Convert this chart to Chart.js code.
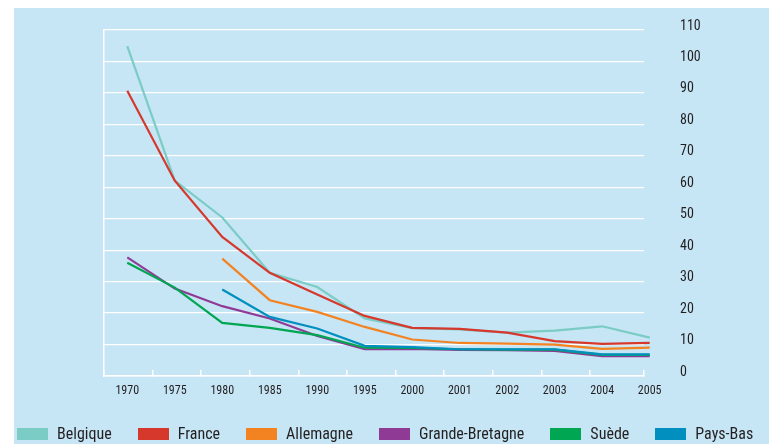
<!DOCTYPE html>
<html>
<head>
<meta charset="utf-8">
<script src="https://cdn.jsdelivr.net/npm/chart.js@4/dist/chart.umd.min.js"></script>
<style>
  body { margin: 0; background: #ffffff; }
  #wrap { position: relative; width: 769px; height: 444px; overflow: hidden; }
  #bg { position: absolute; left: 14px; top: 8px; width: 755px; height: 436px; background: #c6e5f5; }
  #chart { position: absolute; left: 0; top: 0; }
  #legend { position: absolute; left: 17px; top: 424px; display: flex; align-items: center; white-space: nowrap;
            font-family: "Roboto Condensed", "DejaVu Sans Condensed", sans-serif;
            font-size: 16px; line-height: 20px; color: #231f20; }
  .item { display: flex; align-items: center; flex-shrink: 0; margin-right: 26px; }
  .box { width: 31px; height: 12px; margin-right: 9px; flex-shrink: 0; }
</style>
</head>
<body>
<div id="wrap">
  <div id="bg"></div>
  <canvas id="chart" width="769" height="444"></canvas>
  <div id="legend"></div>
</div>
<script>
// values
const years = ['1970', '1975', '1980', '1985', '1990', '1995', '2000', '2001', '2002', '2003', '2004', '2005'];
const belgique = [104.9, 62.1, 50.4, 32.8, 28.3, 18.3, 15.2, 14.8, 13.8, 14.4, 15.8, 12.2];
const france = [90.7, 62.1, 44.2, 32.8, 25.9, 19.1, 15.3, 15.0, 13.8, 11.1, 10.2, 10.5];
const allemagne = [null, null, 37.3, 24.1, 20.4, 15.6, 11.6, 10.5, 10.3, 10.0, 8.6, 9.0];
const grandeBretagne = [37.7, 27.8, 22.2, 18.3, 12.7, 8.5, 8.6, 8.3, 8.2, 8.0, 6.3, 6.3];
const suede = [36.0, 28.1, 16.9, 15.3, 13.0, 9.0, 8.9, 8.5, 8.4, 8.4, 6.7, 6.7];
const paysBas = [null, null, 27.5, 18.8, 15.1, 9.6, 9.2, 8.5, 8.5, 8.5, 6.9, 6.9];

const seriesNames = ['Belgique', 'France', 'Allemagne', 'Grande-Bretagne', 'Suède', 'Pays-Bas'];
const seriesValues = [belgique, france, allemagne, grandeBretagne, suede, paysBas];
const colors = ['#7accc4', '#d6382c', '#f38221', '#8f3b96', '#00a651', '#008fbe'];

const FONT = '"Roboto Condensed", "DejaVu Sans Condensed", sans-serif';

const datasets = seriesNames.map((name, k) => ({
    label: name,
    data: seriesValues[k].map((v, i) => ({ x: i, y: v })),
    borderColor: colors[k],
    backgroundColor: colors[k],
    borderWidth: 2.2,
    pointRadius: 0,
    tension: 0,
    clip: false,
    order: seriesNames.length - k
}));

// vertical axes: fixed width, no extra top/bottom padding from tick labels
function fixWidth(w) {
    return s => { s.width = w; s.paddingTop = 0; s.paddingBottom = 0; };
}

new Chart(document.getElementById('chart').getContext('2d'), {
    type: 'line',
    data: { datasets: datasets },
    options: {
        responsive: false,
        animation: false,
        devicePixelRatio: 1,
        layout: { padding: { top: 30, left: 0, right: 0, bottom: 0 } },
        plugins: { legend: { display: false }, tooltip: { enabled: false } },
        scales: {
            x: {
                type: 'linear',
                position: 'bottom',
                weight: 1,
                min: -0.49,
                max: 10.88,
                afterBuildTicks: s => { s.ticks = years.map((y, i) => ({ value: i })); },
                afterFit: s => { s.height = 68; s.paddingLeft = 0; s.paddingRight = 0; },
                grid: { display: false, drawTicks: false },
                border: { display: false },
                ticks: {
                    autoSkip: false,
                    maxRotation: 0,
                    padding: 8,
                    color: '#231f20',
                    font: { family: FONT, size: 12 },
                    callback: (v, i) => years[i]
                }
            },
            xTicks: {
                type: 'linear',
                position: 'bottom',
                weight: 0,
                min: 0,
                max: 11.11,
                afterBuildTicks: s => {
                    const t = [];
                    for (let k = 0; k <= 10; k++) t.push({ value: k });
                    t.push({ value: 11.11 });
                    s.ticks = t;
                },
                afterFit: s => { s.height = 0; s.paddingLeft = 0; s.paddingRight = 0; },
                grid: { drawOnChartArea: false, drawTicks: true, tickLength: -6, color: '#ffffff', lineWidth: 1.5 },
                border: { display: true, color: '#ffffff', width: 1.5 },
                ticks: { display: false }
            },
            yLeft: {
                position: 'left',
                min: 0,
                max: 110,
                afterFit: fixWidth(104),
                grid: { drawOnChartArea: false, drawTicks: false },
                border: { display: true, color: '#ffffff', width: 1.5 },
                ticks: { display: false }
            },
            y: {
                position: 'right',
                min: 0,
                max: 110,
                afterFit: fixWidth(125),
                grid: { color: '#ffffff', lineWidth: 1.3, drawTicks: false },
                border: { display: false },
                ticks: {
                    stepSize: 10,
                    padding: 36,
                    labelOffset: -4,
                    color: '#231f20',
                    font: { family: FONT, size: 14 }
                }
            }
        }
    }
});

// legend built from the same series
const legend = document.getElementById('legend');
seriesNames.forEach((name, k) => {
    const item = document.createElement('div');
    item.className = 'item';
    const box = document.createElement('span');
    box.className = 'box';
    box.style.background = colors[k];
    const label = document.createElement('span');
    label.textContent = name;
    item.appendChild(box);
    item.appendChild(label);
    legend.appendChild(item);
});
</script>
</body>
</html>
